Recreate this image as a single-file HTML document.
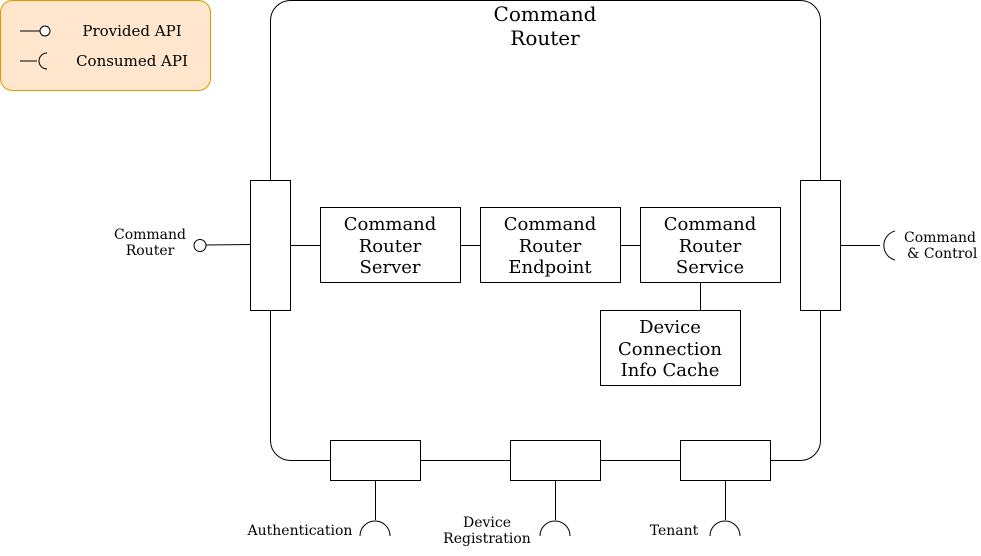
<!DOCTYPE html>
<html><head><style>body{margin:0;background:#fff}svg{display:block}</style></head><body>
<svg width="981" height="556" xmlns="http://www.w3.org/2000/svg" font-family="DejaVu Serif, Liberation Serif, serif" fill="none" stroke="#000" stroke-width="1">
<rect x="0.5" y="0.5" width="210" height="90" rx="12" fill="#ffe6cc" stroke="#d79b00"/>
<line x1="20" y1="31" x2="40" y2="31"/><circle cx="45" cy="31" r="5" fill="#fff"/>
<line x1="20" y1="61" x2="37" y2="61"/><path d="M47 53 A8 8 0 0 0 47 69"/>
<g fill="#000" stroke="none" font-size="15" text-anchor="middle">
<text x="132" y="36">Provided API</text><text x="132" y="66">Consumed API</text></g>
<rect x="270.5" y="0.5" width="550" height="460" rx="20" fill="#fff"/>
<g fill="#000" stroke="none" font-size="20" text-anchor="middle"><text x="545" y="21">Command</text><text x="545" y="45">Router</text></g>
<rect x="250.5" y="180.5" width="40" height="130" fill="#fff"/>
<rect x="800.5" y="180.5" width="40" height="130" fill="#fff"/>
<rect x="320.5" y="207.5" width="140" height="75" fill="#fff"/>
<rect x="480.5" y="207.5" width="140" height="75" fill="#fff"/>
<rect x="640.5" y="207.5" width="140" height="75" fill="#fff"/>
<rect x="600.5" y="310.5" width="140" height="75" fill="#fff"/>
<path d="M290 245.5H320M460 245.5H480M620 245.5H640M700.5 282V310"/>
<g fill="#000" stroke="none" font-size="18" text-anchor="middle">
<text x="390" y="230">Command</text><text x="390" y="252">Router</text><text x="390" y="273">Server</text>
<text x="550" y="230">Command</text><text x="550" y="252">Router</text><text x="550" y="273">Endpoint</text>
<text x="710" y="230">Command</text><text x="710" y="252">Router</text><text x="710" y="273">Service</text>
<text x="670" y="333">Device</text><text x="670" y="355">Connection</text><text x="670" y="376">Info Cache</text></g>
<line x1="206" y1="245" x2="250" y2="244.5"/><circle cx="200" cy="245.5" r="6" fill="#fff"/>
<line x1="840" y1="245.5" x2="880" y2="245.5"/><path d="M895 231 A15 15 0 0 0 895 260"/>
<g fill="#000" stroke="none" font-size="14">
<text x="150" y="239" text-anchor="middle">Command</text><text x="150" y="255" text-anchor="middle">Router</text>
<text x="904" y="242">Command</text><text x="907" y="258">&amp; Control</text></g>
<rect x="330.5" y="440.5" width="90" height="40" fill="#fff"/>
<rect x="510.5" y="440.5" width="90" height="40" fill="#fff"/>
<rect x="680.5" y="440.5" width="90" height="40" fill="#fff"/>
<path d="M420 460.5H510M600 460.5H680"/>
<path d="M375.5 480V520M555.5 480V520M725.5 480V520"/>
<path d="M360 536 A15 15 0 0 1 390 536M540 536 A15 15 0 0 1 570 536M710 536 A15 15 0 0 1 740 536"/>
<g fill="#000" stroke="none" font-size="14" text-anchor="middle">
<text x="300" y="535">Authentication</text>
<text x="487" y="527">Device</text><text x="487" y="543">Registration</text>
<text x="674" y="535">Tenant</text></g>
</svg>
</body></html>
